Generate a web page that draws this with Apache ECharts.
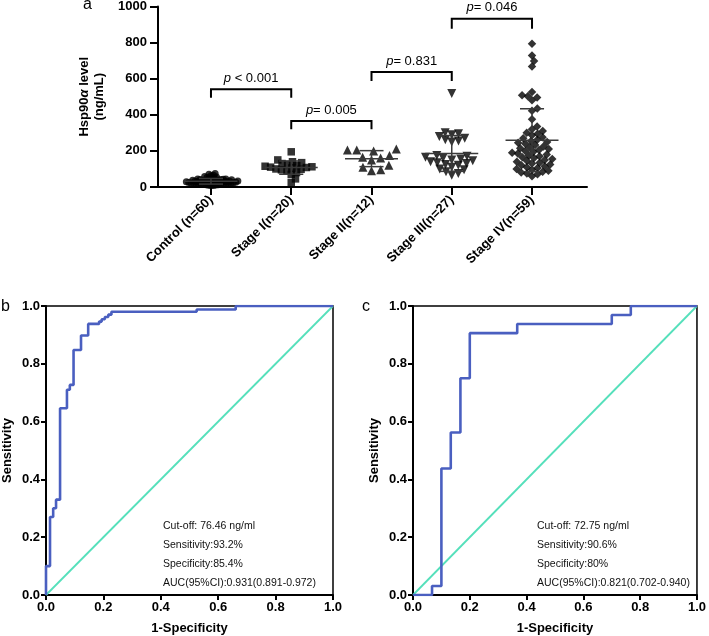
<!DOCTYPE html>
<html>
<head>
<meta charset="utf-8">
<script src="https://cdn.jsdelivr.net/npm/echarts@6/dist/echarts.min.js"></script>
<style>
  html, body { margin: 0; padding: 0; background: #fff; }
  #main { width: 709px; height: 636px; }
</style>
</head>
<body>
<div id="main"></div>
<script>
// panel a: Hsp90a level per group
const catNames = ['Control (n=60)', 'Stage I(n=20)', 'Stage II(n=12)', 'Stage III(n=27)', 'Stage IV(n=59)'];
const control = [75, 70, 65, 62, 58, 55, 52, 50, 48, 47, 45, 44, 43, 42, 41, 40, 39, 38, 38, 37,
  36, 35, 35, 34, 33, 32, 32, 31, 30, 30, 29, 28, 28, 27, 26, 26, 25, 25, 24, 23,
  23, 22, 22, 21, 20, 20, 19, 18, 18, 17, 16, 16, 15, 14, 13, 12, 11, 10, 9, 8];
const stage1 = [195, 150, 140, 135, 130, 125, 120, 115, 112, 110, 108, 105, 100, 98, 95, 90, 80, 70, 45, 25];
const stage2 = [210, 205, 205, 200, 175, 165, 160, 150, 120, 110, 95, 90];
const stage3 = [518, 300, 295, 290, 280, 270, 262, 255, 250, 175, 170, 165, 160, 155, 150, 145, 140, 135,
  130, 125, 120, 110, 100, 95, 85, 75, 65];
const stage4 = [794, 729, 698, 668, 527, 508, 503, 496, 481, 435, 422, 376, 335, 320, 310, 300, 295, 287,
  275, 270, 262, 255, 250, 245, 240, 232, 225, 220, 215, 210, 205, 200, 195, 190, 185, 180, 175, 170,
  165, 160, 155, 150, 145, 140, 135, 130, 125, 120, 115, 110, 105, 100, 95, 90, 85, 80, 75, 70, 60];
const yTicksA = [0, 1000, 200];

// significance brackets
const bracketPairs = [[0, 1], [1, 2], [2, 3], [3, 4]];
const bracketTops = [541, 366, 637, 932];
const bracketLegs = [495, 320, 587, 877];
const pLabels = [' < 0.001', '= 0.005', '= 0.831', '= 0.046'];

// panel b / c: ROC steps (1-specificity, sensitivity)
const fprB = [0, 0.014, 0.025, 0.035, 0.049, 0.073, 0.083, 0.096, 0.122, 0.147, 0.185, 0.194, 0.205, 0.217, 0.228, 0.525, 0.661];
const tprB = [0.10, 0.27, 0.30, 0.33, 0.646, 0.71, 0.727, 0.848, 0.898, 0.938, 0.946, 0.954, 0.962, 0.970, 0.980, 0.988, 1.0];
const fprC = [0.067, 0.1, 0.133, 0.167, 0.2, 0.367, 0.7, 0.767];
const tprC = [0.031, 0.4375, 0.5625, 0.75, 0.906, 0.9375, 0.969, 1.0];
const diag = [0, 1];
const notesB = ['Cut-off: 76.46 ng/ml', 'Sensitivity:93.2%', 'Specificity:85.4%', 'AUC(95%CI):0.931(0.891-0.972)'];
const notesC = ['Cut-off: 72.75 ng/ml', 'Sensitivity:90.6%', 'Specificity:80%', 'AUC(95%CI):0.821(0.702-0.940)'];

const FONT = '"Liberation Sans", Arial, sans-serif';
const groups = [control, stage1, stage2, stage3, stage4];
const symbols = [
  { symbol: 'circle', size: 7, rotate: 0, gap: 2.5 },
  { symbol: 'rect', size: 7.5, rotate: 0, gap: 5.6 },
  { symbol: 'triangle', size: 9, rotate: 0, gap: 9.3 },
  { symbol: 'triangle', size: 9, rotate: 180, gap: 6.8 },
  { symbol: 'diamond', size: 8.5, rotate: 0, gap: 5.8 }
];

const xMinA = -0.66, xMaxA = 4.685;
const gridA = { left: 158, top: 6, width: 429, height: 181 };
const pxX = gridA.width / (xMaxA - xMinA);
const pxY = gridA.height / 1000;

// simple beeswarm so the dots spread sideways like the prism plot
function swarm(values, d) {
  const placed = [];
  const offs = new Array(values.length);
  const order = values.map((v, i) => i).sort((a, b) => values[a] - values[b]);
  order.forEach(i => {
    const y = values[i] * pxY;
    const cands = [0];
    placed.forEach(p => {
      const dy = Math.abs(p.y - y);
      if (dy < d) {
        const dx = Math.sqrt(d * d - dy * dy);
        cands.push(p.x + dx, p.x - dx);
      }
    });
    cands.sort((a, b) => Math.abs(a) - Math.abs(b) || b - a);
    const x = cands.find(c => placed.every(p => (p.x - c) ** 2 + (p.y - y) ** 2 >= d * d - 1e-6));
    placed.push({ x, y });
    offs[i] = x / pxX;
  });
  return offs;
}

function meanSd(arr) {
  const m = arr.reduce((a, b) => a + b, 0) / arr.length;
  const v = arr.reduce((a, b) => a + (b - m) ** 2, 0) / (arr.length - 1);
  return [m, Math.sqrt(v)];
}

function stepPoints(fpr, tpr) {
  const pts = [[0, 0]];
  let prev = 0;
  fpr.forEach((f, i) => {
    pts.push([f, prev]);
    pts.push([f, tpr[i]]);
    prev = tpr[i];
  });
  pts.push([1, 1]);
  return pts;
}

const myChart = echarts.init(document.getElementById('main'));

const series = [];
groups.forEach((g, gi) => {
  const offs = swarm(g, symbols[gi].gap);
  series.push({
    type: 'scatter',
    xAxisIndex: 0, yAxisIndex: 0,
    symbol: symbols[gi].symbol,
    symbolSize: symbols[gi].size,
    symbolRotate: symbols[gi].rotate,
    itemStyle: { color: '#000' },
    data: g.map((v, i) => [gi + offs[i], v]),
    z: 2
  });
});

// mean +- SD
series.push({
  type: 'custom',
  xAxisIndex: 0, yAxisIndex: 0,
  z: 3,
  data: groups.map((g, gi) => [gi].concat(meanSd(g))),
  renderItem: function (params, api) {
    const gi = api.value(0), m = api.value(1), s = api.value(2);
    const c = api.coord([gi, m]);
    const hi = api.coord([gi, m + s]);
    const lo = api.coord([gi, Math.max(m - s, 0)]);
    const w = api.size([0.33, 0])[0];
    const cw = api.size([0.15, 0])[0];
    const st = { stroke: '#3a3a3a', lineWidth: 1.5 };
    return {
      type: 'group',
      children: [
        { type: 'line', shape: { x1: c[0] - w, y1: c[1], x2: c[0] + w, y2: c[1] }, style: st },
        { type: 'line', shape: { x1: c[0], y1: hi[1], x2: c[0], y2: lo[1] }, style: st },
        { type: 'line', shape: { x1: c[0] - cw, y1: hi[1], x2: c[0] + cw, y2: hi[1] }, style: st },
        { type: 'line', shape: { x1: c[0] - cw, y1: lo[1], x2: c[0] + cw, y2: lo[1] }, style: st }
      ]
    };
  }
});

// brackets with p values
series.push({
  type: 'custom',
  xAxisIndex: 0, yAxisIndex: 0,
  z: 4,
  data: bracketPairs.map((p, i) => [p[0], p[1], bracketTops[i], bracketLegs[i], i]),
  renderItem: function (params, api) {
    const a = api.value(0), b = api.value(1), top = api.value(2), leg = api.value(3);
    const idx = api.value(4);
    const p1 = api.coord([a, leg]), p2 = api.coord([a, top]);
    const p3 = api.coord([b, top]), p4 = api.coord([b, leg]);
    return {
      type: 'group',
      children: [
        { type: 'polyline', shape: { points: [p1, p2, p3, p4] }, style: { stroke: '#000', lineWidth: 2, fill: null } },
        {
          type: 'text',
          style: {
            text: '{i|p}' + pLabels[idx],
            x: (p2[0] + p3[0]) / 2, y: p2[1] - 11,
            align: 'center', verticalAlign: 'middle',
            fill: '#000', fontSize: 13, fontFamily: FONT,
            rich: { i: { fontStyle: 'italic', fontSize: 13, fontFamily: FONT, fill: '#000' } }
          }
        }
      ]
    };
  }
});

const roc = [
  { pts: stepPoints(fprB, tprB), axis: 1 },
  { pts: stepPoints(fprC, tprC), axis: 2 }
];
roc.forEach(r => {
  series.push({
    type: 'line', xAxisIndex: r.axis, yAxisIndex: r.axis,
    data: diag.map(v => [v, v]), showSymbol: false, silent: true,
    lineStyle: { color: '#55e0bb', width: 1.8 }, z: 2
  });
  series.push({
    type: 'line', xAxisIndex: r.axis, yAxisIndex: r.axis,
    data: r.pts, showSymbol: false, silent: true,
    lineStyle: { color: '#4a5fc0', width: 2.6 }, z: 3
  });
});

function rocAxisX(gi) {
  return {
    type: 'value', gridIndex: gi, min: 0, max: 1, interval: 0.2,
    name: '1-Specificity', nameLocation: 'middle', nameGap: 27,
    nameTextStyle: { fontFamily: FONT, fontWeight: 'bold', fontSize: 13, color: '#000' },
    axisLine: { show: true, onZero: false, lineStyle: { color: '#000', width: 2 } },
    axisTick: { show: true, length: 5, lineStyle: { color: '#000', width: 2 } },
    axisLabel: { margin: 6, fontFamily: FONT, fontWeight: 'bold', fontSize: 13, color: '#000', formatter: v => v.toFixed(1) },
    splitLine: { show: false }
  };
}
function rocAxisY(gi) {
  return {
    type: 'value', gridIndex: gi, min: 0, max: 1, interval: 0.2,
    name: 'Sensitivity', nameLocation: 'middle', nameGap: 32,
    nameTextStyle: { fontFamily: FONT, fontWeight: 'bold', fontSize: 13, color: '#000' },
    axisLine: { show: true, onZero: false, lineStyle: { color: '#000', width: 2 } },
    axisTick: { show: true, length: 5, lineStyle: { color: '#000', width: 2 } },
    axisLabel: { margin: 6, fontFamily: FONT, fontWeight: 'bold', fontSize: 13, color: '#000', formatter: v => v.toFixed(1) },
    splitLine: { show: false }
  };
}

function noteText(lines, left) {
  return lines.map((t, i) => ({
    type: 'text', left: left, top: 521 + i * 19,
    style: { text: t, fontFamily: FONT, fontSize: 10.5, fill: '#111' }
  }));
}

const option = {
  animation: false,
  backgroundColor: '#fff',
  grid: [
    gridA,
    { left: 45, top: 306, width: 288, height: 289, show: true, borderColor: '#000', borderWidth: 1.5 },
    { left: 413, top: 306, width: 288, height: 289, show: true, borderColor: '#000', borderWidth: 1.5 }
  ],
  xAxis: [
    {
      type: 'value', gridIndex: 0, min: xMinA, max: xMaxA,
      axisLine: { show: true, onZero: false, lineStyle: { color: '#000', width: 2 } },
      axisTick: { show: true, length: 8, lineStyle: { color: '#000', width: 2 }, customValues: [0, 1, 2, 3, 4] },
      axisLabel: {
        customValues: [0, 1, 2, 3, 4], rotate: 45, margin: 11,
        fontFamily: FONT, fontWeight: 'bold', fontSize: 13, color: '#000',
        formatter: v => catNames[Math.round(v)]
      },
      splitLine: { show: false }
    },
    rocAxisX(1),
    rocAxisX(2)
  ],
  yAxis: [
    {
      type: 'value', gridIndex: 0, min: yTicksA[0], max: yTicksA[1], interval: yTicksA[2],
      name: 'Hsp90{i|α} level\n(ng/mL)', nameLocation: 'middle', nameGap: 50,
      nameTextStyle: {
        fontFamily: FONT, fontWeight: 'bold', fontSize: 13, color: '#000', lineHeight: 15,
        rich: { i: { fontFamily: FONT, fontWeight: 'bold', fontStyle: 'italic', fontSize: 13, color: '#000' } }
      },
      axisLine: { show: true, onZero: false, lineStyle: { color: '#000', width: 2 } },
      axisTick: { show: true, length: 8, lineStyle: { color: '#000', width: 2 } },
      axisLabel: { margin: 11, fontFamily: FONT, fontWeight: 'bold', fontSize: 13, color: '#000', formatter: v => String(v) },
      splitLine: { show: false }
    },
    rocAxisY(1),
    rocAxisY(2)
  ],
  graphic: [
    { type: 'text', left: 83, top: -3, style: { text: 'a', fontFamily: FONT, fontSize: 16, fill: '#000' } },
    { type: 'text', left: 1, top: 299, style: { text: 'b', fontFamily: FONT, fontSize: 16, fill: '#000' } },
    { type: 'text', left: 362, top: 299, style: { text: 'c', fontFamily: FONT, fontSize: 16, fill: '#000' } }
  ].concat(noteText(notesB, 163), noteText(notesC, 537)),
  series: series
};

option && myChart.setOption(option);
</script>
</body>
</html>
